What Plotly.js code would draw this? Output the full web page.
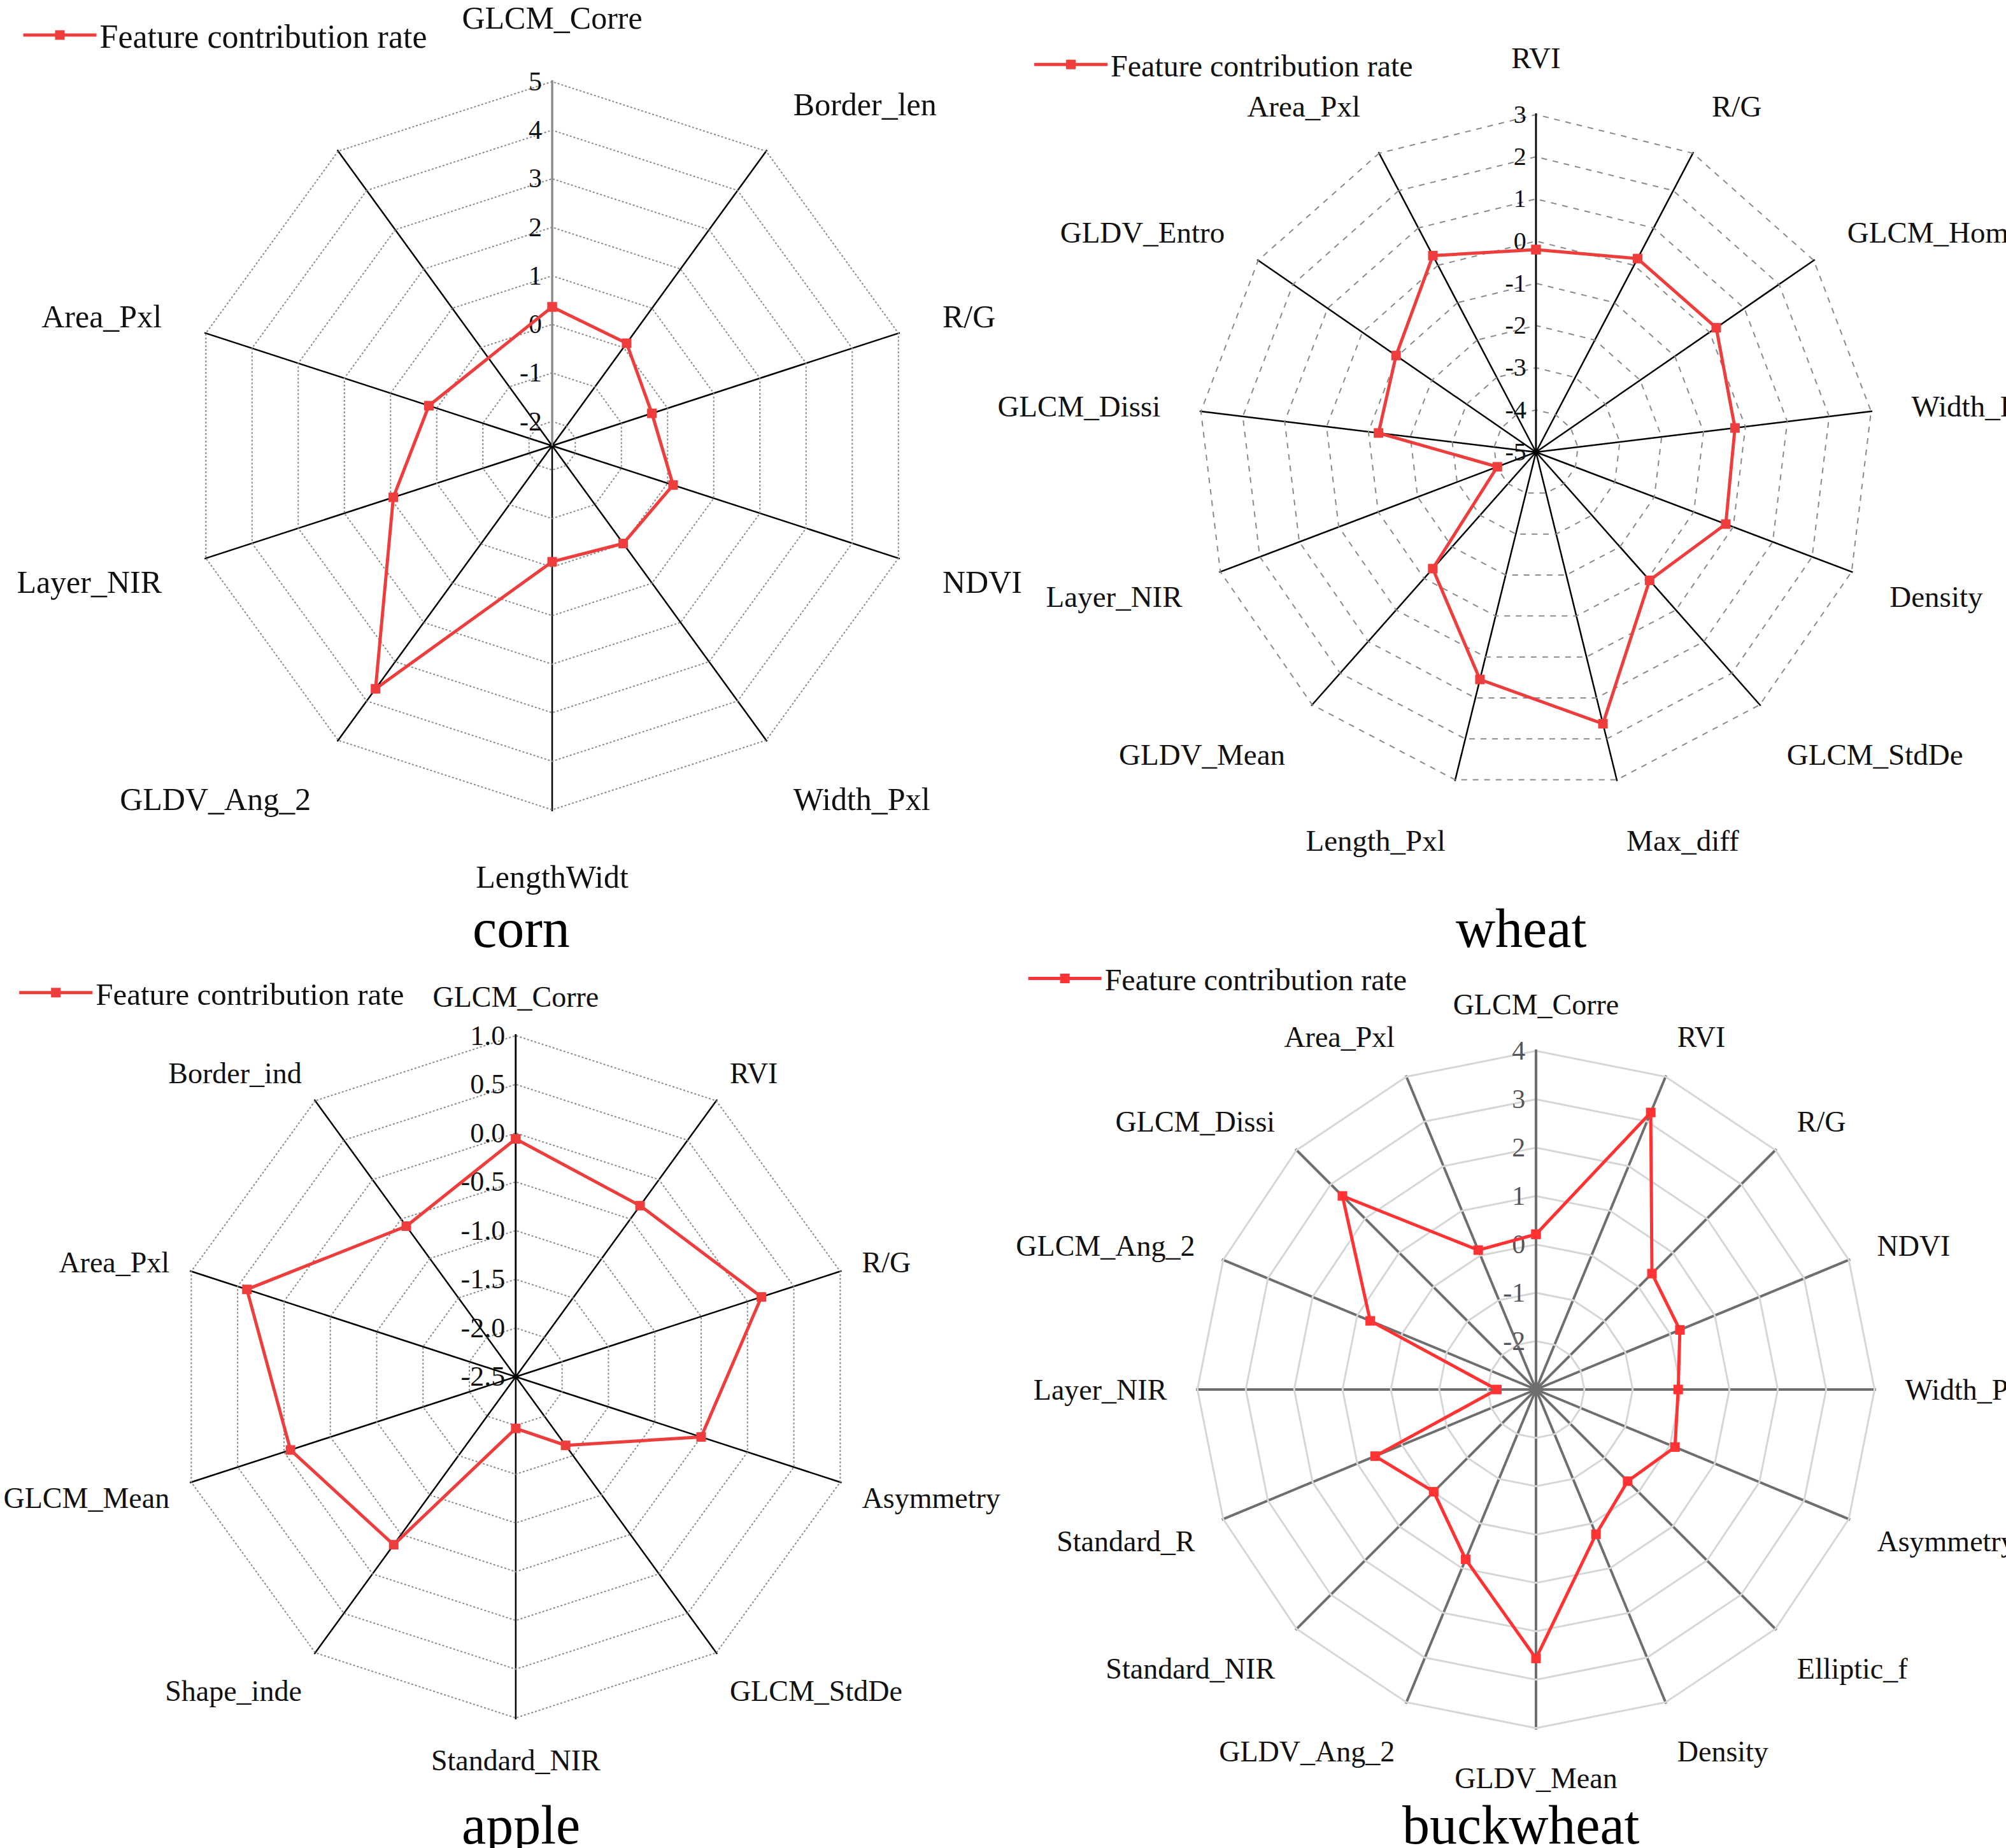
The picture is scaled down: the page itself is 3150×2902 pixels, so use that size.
<!DOCTYPE html>
<html>
<head>
<meta charset="utf-8">
<script src="https://cdn.plot.ly/plotly-3.0.1.min.js"></script>
<style>html,body{margin:0;padding:0;background:#fff;}#chart{width:3150px;height:2902px;}</style>
</head>
<body>
<div id="chart"></div>
<script>
// ---- DATA ----
const seriesName = 'Feature contribution rate';

const cornCategories = ['GLCM_Corre','Border_len','R/G','NDVI','Width_Pxl','LengthWidt','GLDV_Ang_2','Layer_NIR','Area_Pxl',' '];
const cornValues = [0.36, 0.11, -0.34, 0.12, -0.01, -0.11, 3.69, 0.94, 0.17];
const cornTickVals = [-2, -1, 0, 1, 2, 3, 4, 5];
const cornTickText = ['-2', '-1', '0', '1', '2', '3', '4', '5'];

const wheatCategories = ['RVI','R/G','GLCM_Homo','Width_Pxl','Density','GLCM_StdDe','Max_diff','Length_Pxl','GLDV_Mean','Layer_NIR','GLCM_Dissi','GLDV_Entro','Area_Pxl'];
const wheatValues = [-0.2, 0.18, 0.19, -0.25, -0.19, -0.94, 1.63, 0.55, -1.31, -4.02, -1.24, -0.97, 0.26];
const wheatTickVals = [-5, -4, -3, -2, -1, 0, 1, 2, 3];
const wheatTickText = ['-5', '-4', '-3', '-2', '-1', '0', '1', '2', '3'];

const appleCategories = ['GLCM_Corre','RVI','R/G','Asymmetry','GLCM_StdDe','Standard_NIR','Shape_inde','GLCM_Mean','Area_Pxl','Border_ind'];
const appleValues = [-0.06, -0.33, 0.15, -0.5, -1.63, -1.97, -0.37, -0.07, 0.4, -0.59];
const appleTickVals = [-2.5, -2.0, -1.5, -1.0, -0.5, 0.0, 0.5, 1.0];
const appleTickText = ['-2.5', '-2.0', '-1.5', '-1.0', '-0.5', '0.0', '0.5', '1.0'];

const buckwheatCategories = ['GLCM_Corre','RVI','R/G','NDVI','Width_Pxl','Asymmetry','Elliptic_f','Density','GLDV_Mean','GLDV_Ang_2','Standard_NIR','Standard_R','Layer_NIR','GLCM_Ang_2','GLCM_Dissi','Area_Pxl'];
const buckwheatValues = [0.21, 3.2, 0.39, 0.22, -0.06, 0.11, -0.32, 0.24, 2.56, 0.8, -0.01, 0.6, -2.19, 0.71, 2.66, 0.12];
const buckwheatTickVals = [-2, -1, 0, 1, 2, 3, 4];
const buckwheatTickText = ['-2', '-1', '0', '1', '2', '3', '4'];

const panelTitles = ['corn', 'wheat', 'apple', 'buckwheat'];

// ---- BUILD ----
const SERIF = 'Liberation Serif, Times New Roman, serif';

function closed(arr) { return arr.concat([arr[0]]); }

function makeTrace(cats, vals, subplot, legend, color) {
  const n = vals.length;
  return {
    type: 'scatterpolar',
    mode: 'lines+markers',
    name: seriesName,
    theta: closed(cats.slice(0, n)),
    r: closed(vals),
    subplot: subplot,
    legend: legend,
    line: {color: color, width: 5},
    marker: {symbol: 'square', size: 15, color: color}
  };
}

const traces = [
  makeTrace(cornCategories, cornValues, 'polar', 'legend', '#ee3d3d'),
  makeTrace(wheatCategories, wheatValues, 'polar2', 'legend2', '#ee3d3d'),
  makeTrace(appleCategories, appleValues, 'polar3', 'legend3', '#ee3d3d'),
  makeTrace(buckwheatCategories, buckwheatValues, 'polar4', 'legend4', '#ff3333')
];

// the outer ring is drawn as the last radial grid line: extend the range a hair past the top tick
function polar(domX, domY, cats, range, tv, tt, opts) {
  const ext = 0.03 * (tv[1] - tv[0]);
  return {
    domain: {x: domX, y: domY},
    bgcolor: 'rgba(0,0,0,0)',
    gridshape: 'linear',
    radialaxis: {
      range: [range[0], range[1] + ext],
      angle: 90,
      side: 'counterclockwise',
      tickvals: tv,
      ticktext: tt,
      tickangle: 90,
      showline: true,
      linecolor: opts.radialLine,
      linewidth: opts.radialWidth,
      showgrid: true,
      gridcolor: opts.gridColor,
      gridwidth: opts.gridWidth,
      griddash: opts.gridDash,
      ticks: '',
      tickfont: {family: SERIF, size: opts.radFont, color: opts.radColor},
      layer: 'below traces'
    },
    angularaxis: {
      type: 'category',
      categoryorder: 'array',
      categoryarray: cats,
      direction: 'clockwise',
      rotation: 90,
      showline: false,
      showgrid: true,
      gridcolor: opts.spokeColor,
      gridwidth: opts.spokeWidth,
      ticks: 'outside',
      ticklen: opts.labelGap,
      tickcolor: 'rgba(0,0,0,0)',
      tickfont: {family: SERIF, size: opts.labFont, color: '#111'},
      layer: 'below traces'
    }
  };
}

const dashedOpts = {radialLine: '#000', radialWidth: 2.5, gridColor: '#8a8a8a', gridWidth: 2, gridDash: 'dot',
  spokeColor: '#000', spokeWidth: 2.5, radFont: 42, radColor: '#111', labFont: 50, labelGap: 60};

function legendCfg(x, y, size) {
  return {x: x, y: y, xanchor: 'left', yanchor: 'middle', bgcolor: 'rgba(0,0,0,0)',
    font: {family: SERIF, size: size, color: '#111'}, itemwidth: 115};
}

function title(text, x, y) {
  return {text: text, x: x, y: y, xref: 'paper', yref: 'paper', xanchor: 'center', yanchor: 'middle',
    showarrow: false, font: {family: SERIF, size: 86, color: '#000'}};
}

const layout = {
  width: 3150, height: 2902,
  margin: {l: 0, r: 0, t: 0, b: 0},
  paper_bgcolor: '#fff',
  showlegend: true,
  polar: polar([0.0930, 0.4575], [0.5610, 0.9566], cornCategories, [-2.5, 5], cornTickVals, cornTickText,
    Object.assign({}, dashedOpts, {radialLine: '#888', gridDash: 'dot'})),
  polar2: polar([0.5968, 0.9346], [0.5720, 0.9387], wheatCategories, [-5, 3], wheatTickVals, wheatTickText,
    Object.assign({}, dashedOpts, {gridDash: 'dash', radFont: 40, labFont: 47, labelGap: 52})),
  polar3: polar([0.0863, 0.4279], [0.0696, 0.4404], appleCategories, [-2.5, 1], appleTickVals, appleTickText,
    Object.assign({}, dashedOpts, {gridDash: 'dot', radFont: 44, labFont: 46, labelGap: 24})),
  polar4: polar([0.5962, 0.9352], [0.0641, 0.4321], buckwheatCategories, [-3, 4], buckwheatTickVals, buckwheatTickText,
    {radialLine: '#6e6e6e', radialWidth: 4, gridColor: '#d6d6d6', gridWidth: 3, gridDash: 'solid',
     spokeColor: '#6e6e6e', spokeWidth: 4, radFont: 42, radColor: '#555', labFont: 46, labelGap: 36}),
  legend: legendCfg(0.010, 0.981, 52),
  legend2: legendCfg(0.514, 0.965, 48),
  legend3: legendCfg(0.008, 0.4628, 49),
  legend4: legendCfg(0.511, 0.4704, 48),
  annotations: [
    title(panelTitles[0], 0.2597, 0.4976),
    title(panelTitles[1], 0.7584, 0.4976),
    title(panelTitles[2], 0.2597, 0.0125),
    title(panelTitles[3], 0.7584, 0.0125)
  ]
};

Plotly.newPlot('chart', traces, layout, {staticPlot: true, displayModeBar: false}).then(function (gd) {
  // Plotly's linear-gridshape inside test wrongly hides markers when the radial range is negative
  gd.querySelectorAll('.scatterlayer .points path').forEach(function (p) { p.removeAttribute('display'); });
});
</script>
</body>
</html>
